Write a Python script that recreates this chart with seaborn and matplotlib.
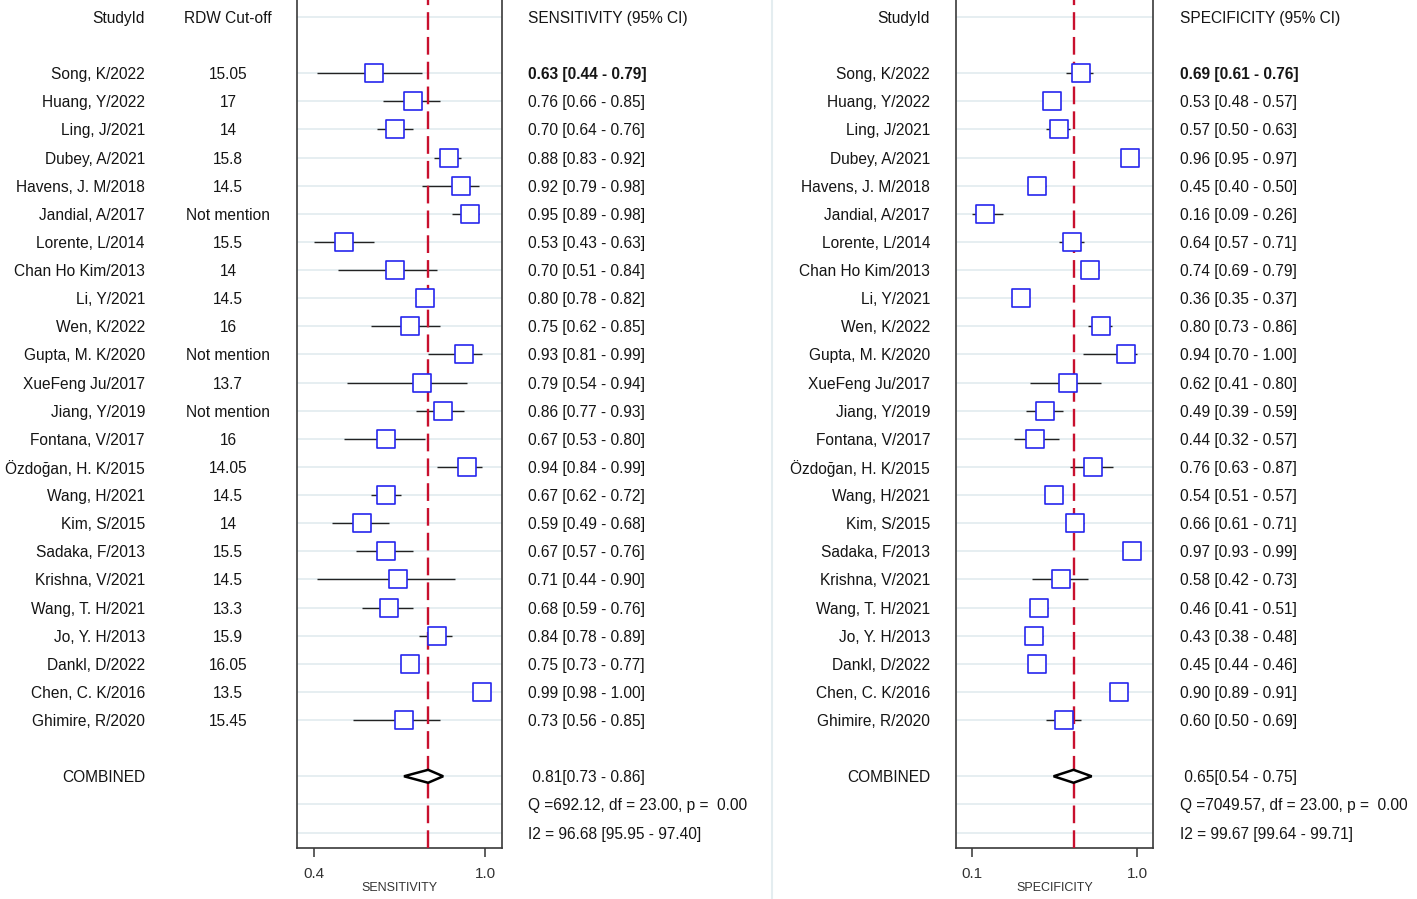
import numpy as np
import pandas as pd
import matplotlib
matplotlib.use("Agg")
import matplotlib.pyplot as plt
import matplotlib.transforms as mtrans
from matplotlib.patches import Polygon
from matplotlib.lines import Line2D
import seaborn as sns

# ---- data ----
studies = ["Song, K/2022", "Huang, Y/2022", "Ling, J/2021", "Dubey, A/2021",
           "Havens, J. M/2018", "Jandial, A/2017", "Lorente, L/2014",
           "Chan Ho Kim/2013", "Li, Y/2021", "Wen, K/2022", "Gupta, M. K/2020",
           "XueFeng Ju/2017", "Jiang, Y/2019", "Fontana, V/2017",
           "Özdoğan, H. K/2015", "Wang, H/2021", "Kim, S/2015", "Sadaka, F/2013",
           "Krishna, V/2021", "Wang, T. H/2021", "Jo, Y. H/2013", "Dankl, D/2022",
           "Chen, C. K/2016", "Ghimire, R/2020"]
cutoffs = ["15.05", "17", "14", "15.8", "14.5", "Not mention", "15.5", "14",
           "14.5", "16", "Not mention", "13.7", "Not mention", "16", "14.05",
           "14.5", "14", "15.5", "14.5", "13.3", "15.9", "16.05", "13.5", "15.45"]

sens = [0.63, 0.76, 0.70, 0.88, 0.92, 0.95, 0.53, 0.70, 0.80, 0.75, 0.93, 0.79,
        0.86, 0.67, 0.94, 0.67, 0.59, 0.67, 0.71, 0.68, 0.84, 0.75, 0.99, 0.73]
sens_lo = [0.44, 0.66, 0.64, 0.83, 0.79, 0.89, 0.43, 0.51, 0.78, 0.62, 0.81, 0.54,
           0.77, 0.53, 0.84, 0.62, 0.49, 0.57, 0.44, 0.59, 0.78, 0.73, 0.98, 0.56]
sens_hi = [0.79, 0.85, 0.76, 0.92, 0.98, 0.98, 0.63, 0.84, 0.82, 0.85, 0.99, 0.94,
           0.93, 0.80, 0.99, 0.72, 0.68, 0.76, 0.90, 0.76, 0.89, 0.77, 1.00, 0.85]

spec = [0.69, 0.53, 0.57, 0.96, 0.45, 0.16, 0.64, 0.74, 0.36, 0.80, 0.94, 0.62,
        0.49, 0.44, 0.76, 0.54, 0.66, 0.97, 0.58, 0.46, 0.43, 0.45, 0.90, 0.60]
spec_lo = [0.61, 0.48, 0.50, 0.95, 0.40, 0.09, 0.57, 0.69, 0.35, 0.73, 0.70, 0.41,
           0.39, 0.32, 0.63, 0.51, 0.61, 0.93, 0.42, 0.41, 0.38, 0.44, 0.89, 0.50]
spec_hi = [0.76, 0.57, 0.63, 0.97, 0.50, 0.26, 0.71, 0.79, 0.37, 0.86, 1.00, 0.80,
           0.59, 0.57, 0.87, 0.57, 0.71, 0.99, 0.73, 0.51, 0.48, 0.46, 0.91, 0.69]

sens_pooled = (0.81, 0.73, 0.86)
spec_pooled = (0.65, 0.54, 0.75)
sens_stats = ["Q =692.12, df = 23.00, p =  0.00", "I2 = 96.68 [95.95 - 97.40]"]
spec_stats = ["Q =7049.57, df = 23.00, p =  0.00", "I2 = 99.67 [99.64 - 99.71]"]
sens_ticklabels = ["0.4", "1.0"]
spec_ticklabels = ["0.1", "1.0"]

sns.set_theme(style="white")
plt.rcParams['font.family'] = ['Liberation Sans', 'DejaVu Sans']

W, H = 1417, 899
fig = plt.figure(figsize=(W / 100, H / 100), dpi=100)
n = len(studies)
rows = np.arange(n)
FS = 11.2
TXT = "#151515"

# faint separator between the two halves
fig.add_artist(Line2D([772 / W, 772 / W], [0, 1], color="#e4edf0", lw=1.5))


def panel(x0, x1, est, lo, hi, pooled, stats, ticklabels, xlabel, name_x,
          val_x, header, cut_x=None):
    ax = fig.add_axes([x0 / W, (H - 848) / H, (x1 - x0) / W, 848 / H])
    df = pd.DataFrame({"row": rows, "est": est, "lo": lo, "hi": hi})
    lmin = min(lo)
    pad = 0.097 * (1 - lmin)

    # light row lines
    for r in [-2] + list(rows) + [n + 1, n + 2, n + 3]:
        ax.axhline(r, color="#e4edf0", lw=1.3, zorder=0)

    ax.hlines(df["row"], df["lo"], df["hi"], color="#222222", lw=1.0, zorder=2)
    ax.axvline(pooled[0], color="#c8102e", lw=1.7, ls=(0, (7.5, 3.0)), zorder=3)
    sns.scatterplot(data=df, x="est", y="row", marker="s", s=150, color="white",
                    edgecolor="#2626ee", linewidth=1.2, zorder=4, ax=ax,
                    legend=False)
    yc = n + 1
    dia = Polygon([[pooled[1], yc], [pooled[0], yc - 0.23], [pooled[2], yc],
                   [pooled[0], yc + 0.23]], closed=True, facecolor="white",
                  edgecolor="black", lw=1.8, zorder=5)
    ax.add_patch(dia)

    ax.set_xlim(lmin - pad, 1 + pad)
    ax.set_ylim(n + 3.55, -2.6)
    ax.set_yticks([])
    ax.set_ylabel("")
    ax.set_xticks([lmin, 1.0])
    ax.set_xticklabels(ticklabels, fontsize=11, color="#333333")
    ax.tick_params(axis="x", bottom=True, length=6.5, width=1.1,
                   direction="out", color="#333333", pad=7)
    ax.set_xlabel(xlabel, fontsize=9, color="#333333", labelpad=1)
    for s in ["left", "right", "bottom"]:
        ax.spines[s].set_color("#3a3a3a")
        ax.spines[s].set_linewidth(1.2)
    ax.spines["top"].set_visible(False)

    tr = mtrans.blended_transform_factory(fig.transFigure, ax.transData)
    kw = dict(transform=tr, va="center_baseline", fontsize=FS, color=TXT)
    ax.text(name_x / W, -2, "StudyId", ha="right", **kw)
    ax.text(val_x / W, -2, header, ha="left", **kw)
    if cut_x is not None:
        ax.text(cut_x / W, -2, "RDW Cut-off", ha="center", **kw)
    for i in rows:
        ax.text(name_x / W, i, studies[i], ha="right", **kw)
        ax.text(val_x / W, i, f"{est[i]:.2f} [{lo[i]:.2f} - {hi[i]:.2f}]",
                ha="left", fontweight="bold" if i == 0 else "normal", **kw)
        if cut_x is not None:
            ax.text(cut_x / W, i, cutoffs[i], ha="center", **kw)
    ax.text(name_x / W, n + 1, "COMBINED", ha="right", **kw)
    ax.text(val_x / W, n + 1,
            f" {pooled[0]:.2f}[{pooled[1]:.2f} - {pooled[2]:.2f}]", ha="left", **kw)
    ax.text(val_x / W, n + 2, stats[0], ha="left", **kw)
    ax.text(val_x / W, n + 3, stats[1], ha="left", **kw)
    return ax


panel(297, 502, sens, sens_lo, sens_hi, sens_pooled, sens_stats,
      sens_ticklabels, "SENSITIVITY", 145, 528, "SENSITIVITY (95% CI)", cut_x=228)
panel(956, 1153, spec, spec_lo, spec_hi, spec_pooled, spec_stats,
      spec_ticklabels, "SPECIFICITY", 930, 1180, "SPECIFICITY (95% CI)")

fig.savefig("out.png", dpi=100)
